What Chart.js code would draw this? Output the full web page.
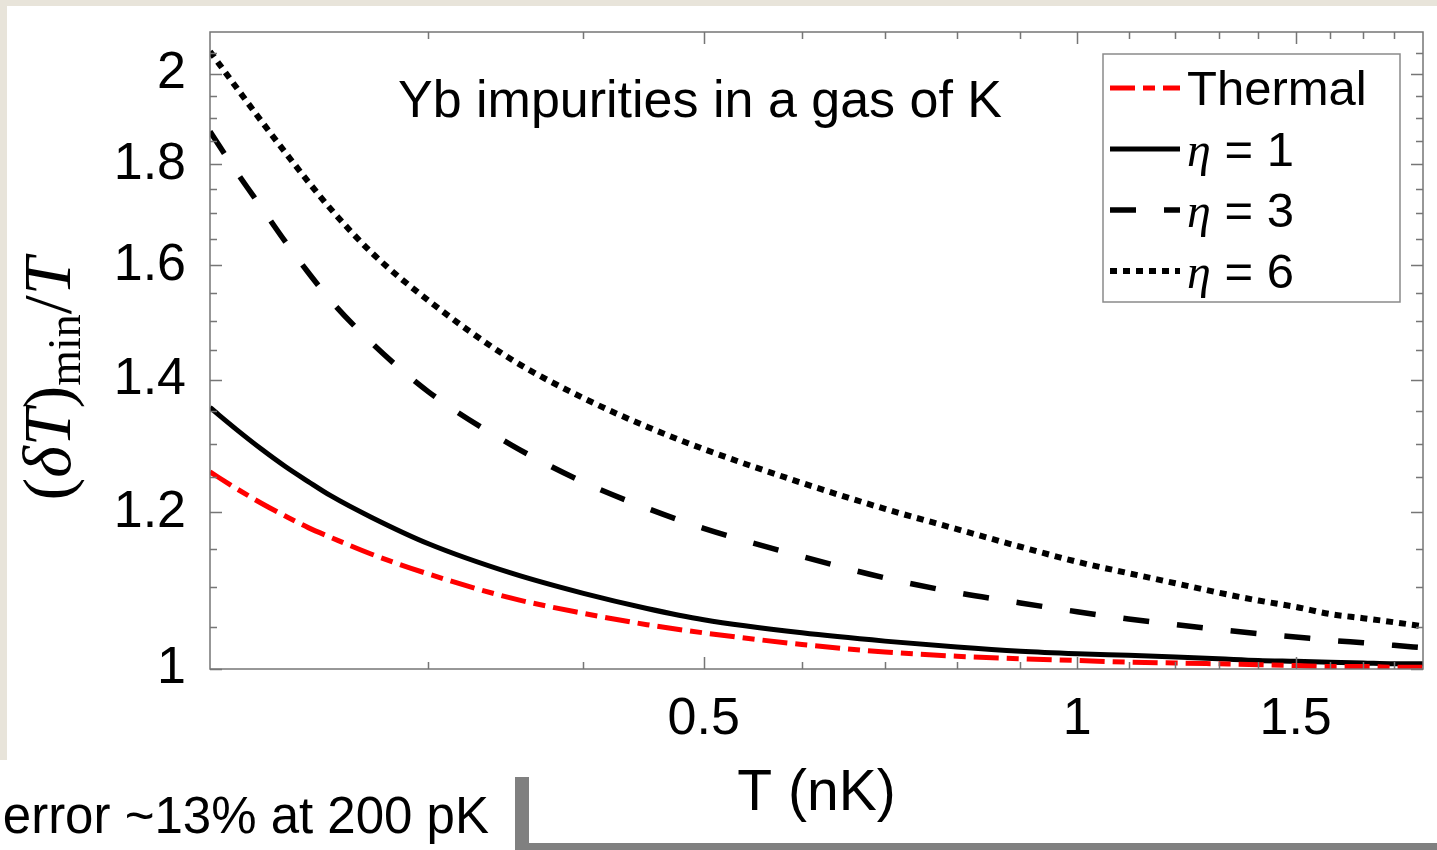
<!DOCTYPE html>
<html>
<head>
<meta charset="utf-8">
<script src="https://cdn.jsdelivr.net/npm/chart.js@4.4.1/dist/chart.umd.min.js"></script>
<style>
  html, body { margin: 0; padding: 0; background: #fff; }
  #wrap { position: relative; width: 1437px; height: 850px; overflow: hidden; }
  .slide { position: absolute; background: #e8e4da; }
  .bar { position: absolute; background: #808080; }
  #note {
    position: absolute; left: 0; top: 790px; width: 489px;
    text-align: right; white-space: nowrap;
    font: 51px/1 "Liberation Sans", Arial, sans-serif; color: #000;
  }
  canvas { position: absolute; left: 0; top: 0; }
</style>
</head>
<body>
<div id="wrap">
  <div class="slide" style="left:0;top:0;width:1437px;height:6px"></div>
  <div class="slide" style="left:0;top:0;width:7px;height:760px"></div>
  <canvas id="chart" width="1437" height="850"></canvas>
  <div id="note">error ~13% at 200 pK</div>
  <div class="bar" style="left:515px;top:777px;width:14px;height:73px"></div>
  <div class="bar" style="left:515px;top:843px;width:922px;height:7px"></div>
</div>
<script>
// temperature (nK), log axis
const temps = [0.2, 0.21, 0.22, 0.23, 0.24, 0.25, 0.27, 0.3, 0.35, 0.4, 0.45, 0.5, 0.6, 0.7, 0.8, 0.9, 1.0, 1.1, 1.2, 1.3, 1.4, 1.5, 1.6, 1.7, 1.8, 1.9];
const thermal = [1.258, 1.234, 1.213, 1.195, 1.179, 1.166, 1.143, 1.117, 1.086, 1.067, 1.053, 1.043, 1.029, 1.020, 1.015, 1.012, 1.010, 1.008, 1.007, 1.006, 1.005, 1.004, 1.003, 1.003, 1.002, 1.002];
const eta1 = [1.356, 1.322, 1.292, 1.266, 1.244, 1.224, 1.193, 1.157, 1.118, 1.092, 1.073, 1.059, 1.043, 1.033, 1.026, 1.021, 1.018, 1.016, 1.014, 1.012, 1.010, 1.009, 1.008, 1.007, 1.006, 1.006];
const eta3 = [1.870, 1.785, 1.712, 1.645, 1.587, 1.537, 1.462, 1.381, 1.298, 1.243, 1.206, 1.178, 1.140, 1.112, 1.093, 1.080, 1.069, 1.060, 1.053, 1.047, 1.042, 1.038, 1.034, 1.031, 1.028, 1.025];
const eta6 = [2.053, 1.969, 1.893, 1.825, 1.764, 1.710, 1.624, 1.536, 1.434, 1.371, 1.326, 1.292, 1.242, 1.205, 1.177, 1.153, 1.133, 1.118, 1.105, 1.093, 1.083, 1.075, 1.066, 1.061, 1.056, 1.051];

const seriesLabels = ['Thermal', 'η = 1', 'η = 3', 'η = 6'];

const xTicks = [0.3, 0.4, 0.5, 0.6, 0.7, 0.8, 0.9, 1, 1.1, 1.2, 1.3, 1.4, 1.5, 1.6, 1.7, 1.8];
const xLabels = [0.5, 1, 1.5];
const yTicks = [1, 1.05, 1.1, 1.15, 1.2, 1.25, 1.3, 1.35, 1.4, 1.45, 1.5, 1.55, 1.6, 1.65, 1.7, 1.75, 1.8, 1.85, 1.9, 1.95, 2, 2.05];
const yLabels = [1, 1.2, 1.4, 1.6, 1.8, 2];

const SANS = '"Liberation Sans", Arial, sans-serif';
const SERIF = '"Liberation Serif", "Times New Roman", serif';
const AXIS = '#767676';

const pts = (ys) => temps.map((t, i) => ({ x: t, y: ys[i] }));

// inward ticks, box, inner title, legend, y label
const decor = {
  id: 'decor',
  afterDatasetsDraw(chart) {
    const { ctx, chartArea: a } = chart;
    const sx = chart.scales.x, sy = chart.scales.y;
    ctx.save();
    ctx.strokeStyle = AXIS;
    ctx.lineWidth = 1.5;
    ctx.setLineDash([]);
    ctx.beginPath();
    xTicks.forEach((v) => {
      const px = Math.round(sx.getPixelForValue(v)) + 0.5;
      const len = xLabels.includes(v) ? 12 : 7;
      ctx.moveTo(px, a.bottom); ctx.lineTo(px, a.bottom - len);
      ctx.moveTo(px, a.top); ctx.lineTo(px, a.top + len);
    });
    yTicks.forEach((v) => {
      const py = Math.round(sy.getPixelForValue(v)) + 0.5;
      const len = yLabels.includes(v) ? 12 : 7;
      ctx.moveTo(a.left, py); ctx.lineTo(a.left + len, py);
      ctx.moveTo(a.right, py); ctx.lineTo(a.right - len, py);
    });
    ctx.stroke();
    ctx.strokeRect(a.left, a.top, a.right - a.left, a.bottom - a.top);

    // inner title
    ctx.fillStyle = '#000';
    ctx.font = '52px ' + SANS;
    ctx.textAlign = 'center';
    ctx.textBaseline = 'alphabetic';
    ctx.fillText('Yb impurities in a gas of K', 700, 117);

    // legend box
    const bx = a.right - 320, by = a.top + 22, bw = 297, bh = 248;
    ctx.fillStyle = '#fff';
    ctx.fillRect(bx, by, bw, bh);
    ctx.strokeStyle = '#8a8a8a';
    ctx.lineWidth = 1.5;
    ctx.strokeRect(bx, by, bw, bh);
    chart.data.datasets.forEach((ds, i) => {
      const base = by + 51 + i * 61;
      const ly = base - 17;
      ctx.save();
      ctx.strokeStyle = ds.borderColor;
      ctx.lineWidth = ds.borderWidth;
      ctx.setLineDash(ds.borderDash || []);
      ctx.beginPath();
      ctx.moveTo(bx + 7, ly); ctx.lineTo(bx + 77, ly);
      ctx.stroke();
      ctx.restore();
      ctx.fillStyle = '#000';
      ctx.textAlign = 'left';
      let tx = bx + 84;
      const label = ds.label;
      if (label.startsWith('η')) {
        ctx.font = 'italic 48px ' + SERIF;
        ctx.fillText('η', tx, base);
        tx += ctx.measureText('η').width;
        ctx.font = '49px ' + SANS;
        ctx.fillText(label.slice(1), tx, base);
      } else {
        ctx.font = '49px ' + SANS;
        ctx.fillText(label, tx, base);
      }
    });
    ctx.restore();
  },
  afterDraw(chart) {
    const { ctx } = chart;
    const runs = [
      { t: '(', f: '68px ' + SERIF, dy: 0 },
      { t: 'δ', f: 'italic 68px ' + SERIF, dy: 0 },
      { t: 'T', f: 'italic 68px ' + SERIF, dy: 0 },
      { t: ')', f: '68px ' + SERIF, dy: 0 },
      { t: 'min', f: '46px ' + SERIF, dy: 10 },
      { t: '/', f: '68px ' + SERIF, dy: 0 },
      { t: 'T', f: 'italic 68px ' + SERIF, dy: 0 },
    ];
    ctx.save();
    let total = 0;
    runs.forEach((r) => { ctx.font = r.f; r.w = ctx.measureText(r.t).width; total += r.w; });
    ctx.translate(52, 379);
    ctx.rotate(-Math.PI / 2);
    ctx.fillStyle = '#000';
    ctx.textBaseline = 'alphabetic';
    ctx.textAlign = 'left';
    let u = -total / 2;
    runs.forEach((r) => { ctx.font = r.f; ctx.fillText(r.t, u, 18 + r.dy); u += r.w; });
    ctx.restore();
  },
};

new Chart(document.getElementById('chart'), {
  type: 'line',
  data: {
    datasets: [
      { label: seriesLabels[0], data: pts(thermal), borderColor: '#ff0000', borderWidth: 5, borderDash: [25, 8, 12, 8] },
      { label: seriesLabels[1], data: pts(eta1), borderColor: '#000', borderWidth: 5, borderDash: [] },
      { label: seriesLabels[2], data: pts(eta3), borderColor: '#000', borderWidth: 5.5, borderDash: [26, 28] },
      { label: seriesLabels[3], data: pts(eta6), borderColor: '#000', borderWidth: 6, borderDash: [7, 6] },
    ],
  },
  options: {
    responsive: false,
    animation: false,
    devicePixelRatio: 1,
    layout: { padding: { top: 32, right: 14, left: 0, bottom: 0 } },
    elements: {
      point: { radius: 0 },
      line: { cubicInterpolationMode: 'monotone', borderCapStyle: 'butt', fill: false },
    },
    plugins: { legend: { display: false }, tooltip: { enabled: false } },
    scales: {
      x: {
        type: 'logarithmic',
        min: 0.2,
        max: 1.9,
        grid: { display: false, drawTicks: false },
        border: { display: false },
        afterBuildTicks: (s) => { s.ticks = xTicks.map((v) => ({ value: v })); },
        afterFit: (s) => { s.height = 181; s.paddingLeft = 0; s.paddingRight = 0; },
        ticks: {
          autoSkip: false, maxRotation: 0, minRotation: 0, padding: 19,
          color: '#000', font: { family: SANS, size: 52 },
          callback: (v) => (xLabels.includes(v) ? String(v) : ''),
        },
        title: {
          display: true, text: 'T (nK)', color: '#000',
          font: { family: SANS, size: 57 }, padding: { top: 0, bottom: 22 },
        },
      },
      y: {
        type: 'logarithmic',
        min: 1,
        max: 2.1,
        grid: { display: false, drawTicks: false },
        border: { display: false },
        afterBuildTicks: (s) => { s.ticks = yTicks.map((v) => ({ value: v })); },
        afterFit: (s) => { s.width = 210; s.paddingTop = 0; s.paddingBottom = 0; },
        ticks: {
          autoSkip: false, padding: 24,
          color: '#000', font: { family: SANS, size: 52 },
          callback: (v) => (yLabels.includes(v) ? String(v) : ''),
        },
      },
    },
  },
  plugins: [decor],
});
</script>
</body>
</html>
